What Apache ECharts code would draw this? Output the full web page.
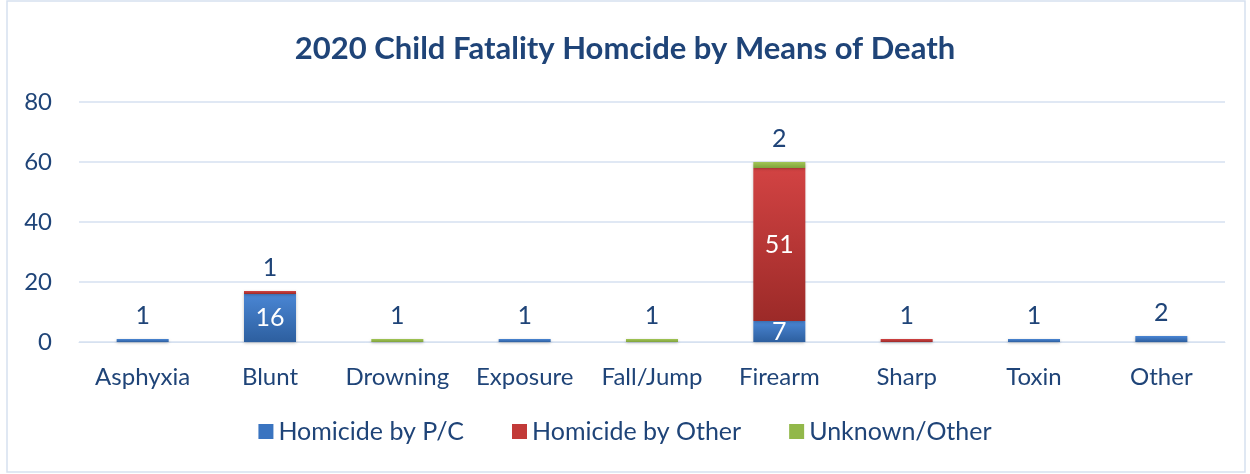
<!DOCTYPE html>
<html>
<head>
    <meta charset="utf-8">
    <title>ECharts</title>
    <script src="https://cdn.jsdelivr.net/npm/echarts@6/dist/echarts.min.js"></script>
    <style>
        html, body { margin: 0; padding: 0; background: #fff; }
        #main { width: 1250px; height: 474px; }
    </style>
</head>
<body>
    <div id="main"></div>
    <script>
        var categories = ['Asphyxia', 'Blunt', 'Drowning', 'Exposure', 'Fall/Jump', 'Firearm', 'Sharp', 'Toxin', 'Other'];
        var seriesNames = ['Homicide by P/C', 'Homicide by Other', 'Unknown/Other'];
        var byPC = [1, 16, 0, 1, 0, 7, 0, 1, 2];
        var byOther = [0, 1, 0, 0, 0, 51, 1, 0, 0];
        var unknownOther = [0, 0, 1, 0, 1, 2, 0, 0, 0];
        var yTicks = [0, 20, 40, 60, 80];

        var textColor = '#1f4478';
        var fontFam = 'Lato, "Liberation Sans", sans-serif';

        function grad(top, bottom) {
            return new echarts.graphic.LinearGradient(0, 0, 0, 1, [
                { offset: 0, color: top },
                { offset: 1, color: bottom }
            ]);
        }

        // small values go above the bar, larger ones inside in white
        function withLabels(values) {
            return values.map(function (v) {
                if (!v) return { value: v, label: { show: false } };
                if (v < 5) {
                    return { value: v, label: { show: true, position: 'top', distance: 11, color: textColor } };
                }
                return { value: v, label: { show: true, position: 'inside', color: '#ffffff' } };
            });
        }

        var colors = [
            grad('#4a86d4', '#2d5f9f'),
            grad('#d24343', '#9c2a28'),
            grad('#a2c655', '#7fa23c')
        ];
        var legendColors = ['#3a74c0', '#c23a38', '#92b84a'];
        var dataSets = [byPC, byOther, unknownOther];

        var myChart = echarts.init(document.getElementById('main'));
        var option = {
            backgroundColor: '#ffffff',
            textStyle: { fontFamily: fontFam },
            title: {
                text: '2020 Child Fatality Homcide by Means of Death',
                left: 'center',
                top: 28,
                textStyle: { color: textColor, fontSize: 31, fontWeight: 'bold', fontFamily: fontFam }
            },
            legend: {
                data: seriesNames.map(function (n, i) {
                    return { name: n, itemStyle: { color: legendColors[i] } };
                }),
                bottom: 25,
                left: 'center',
                icon: 'rect',
                itemWidth: 15,
                itemHeight: 15,
                itemGap: 48,
                textStyle: { color: textColor, fontSize: 25, fontFamily: fontFam }
            },
            grid: { left: 79, right: 25, top: 102, bottom: 132 },
            xAxis: {
                type: 'category',
                data: categories,
                axisLine: { lineStyle: { color: '#d6e1f0' } },
                axisTick: { show: false },
                axisLabel: { color: textColor, fontSize: 24, margin: 23, interval: 0, fontFamily: fontFam }
            },
            yAxis: {
                type: 'value',
                min: yTicks[0],
                max: yTicks[yTicks.length - 1],
                interval: 20,
                axisLine: { show: false },
                axisTick: { show: false },
                splitLine: { lineStyle: { color: '#d6e1f0', width: 1.5 } },
                axisLabel: { color: textColor, fontSize: 24, margin: 27, fontFamily: fontFam }
            },
            graphic: [{
                type: 'rect',
                shape: { x: 7, y: 1, width: 1238, height: 471 },
                style: { fill: 'none', stroke: '#d6e1f0', lineWidth: 1.5 },
                silent: true
            }],
            series: dataSets.map(function (vals, i) {
                return {
                    name: seriesNames[i],
                    type: 'bar',
                    stack: 'total',
                    barWidth: 52,
                    data: withLabels(vals),
                    itemStyle: {
                        color: colors[i],
                        shadowColor: 'rgba(0,0,0,0.25)',
                        shadowBlur: 3,
                        shadowOffsetY: 1
                    },
                    label: { fontSize: 25, fontFamily: fontFam },
                    emphasis: { disabled: true }
                };
            })
        };
        myChart.setOption(option);
    </script>
</body>
</html>
